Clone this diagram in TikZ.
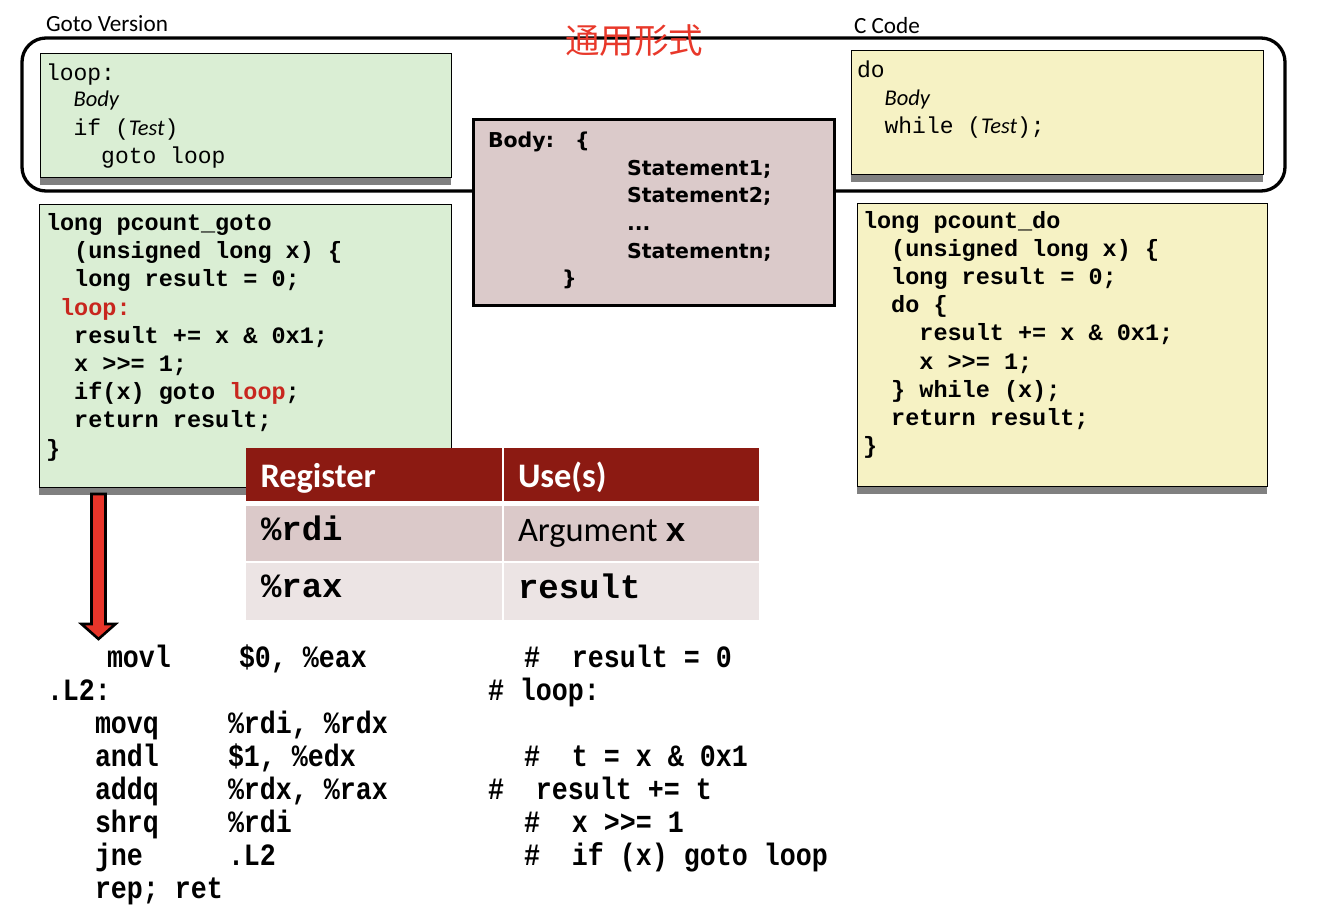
\documentclass[tikz,border=0pt]{standalone}
\usepackage{fontspec}
\setmainfont{Carlito}
\newfontfamily\cjk{Noto Sans CJK SC}
\newfontfamily\cmono{Liberation Mono}
\newfontfamily\asmfont{Liberation Mono}[FakeStretch=0.86]
\newfontfamily\gill{DejaVu Sans}
\usetikzlibrary{calc}
\definecolor{boxgreen}{RGB}{218,238,212}
\definecolor{boxyellow}{RGB}{246,242,196}
\definecolor{bodybrown}{RGB}{219,202,202}
\definecolor{shadowgray}{RGB}{128,128,128}
\definecolor{hdrred}{RGB}{140,26,18}
\definecolor{rowone}{RGB}{219,201,201}
\definecolor{rowtwo}{RGB}{236,228,228}
\definecolor{labelred}{RGB}{200,38,30}
\definecolor{arrowred}{RGB}{232,53,42}
\definecolor{titlered}{RGB}{232,56,42}
\newcommand{\ital}[1]{{\rmfamily\itshape\fontsize{22.5}{28}\selectfont #1}}
\newcommand{\rl}[1]{\textcolor{labelred}{#1}}
\begin{document}
\begin{tikzpicture}[x=1pt,y=-1pt,
  txt/.style={anchor=base west, inner sep=0pt, outer sep=0pt},
  lbl/.style={txt, font=\fontsize{23.2}{26}\selectfont},
  codebox/.style={draw=black, line width=1.4pt, inner sep=0pt, anchor=north west},
  thin/.style={txt, font={\cmono\fontsize{23}{28}\selectfont}},
  code/.style={txt, font={\cmono\bfseries\fontsize{23.5}{28}\selectfont}},
  bodyt/.style={txt, font={\gill\bfseries\fontsize{20.5}{26}\selectfont}},
  cell/.style={anchor=north west, inner sep=0pt, draw=none},
  hdr/.style={txt, text=white, font={\bfseries\fontsize{34.4}{38}\selectfont}},
  tmono/.style={txt, font={\cmono\bfseries\fontsize{34}{36}\selectfont}},
  tsans/.style={txt, font={\fontsize{34.4}{38}\selectfont}},
  asm/.style={txt, font={\asmfont\bfseries\fontsize{31}{33}\selectfont}},
  blockarrow/.style={fill=arrowred, draw=black, line width=2.6pt, line join=miter}
]
\useasboundingbox (0,0) rectangle (1328,922);

% section labels
\node[lbl] (lgoto) at (46,31.5) {Goto Version};
\node[lbl] (lccode) at (854,33) {C Code};

% rounded frame around general forms
\draw[line width=3.3pt, rounded corners=24pt] (22,38) rectangle (1285,191);
\node[txt, anchor=base, text=titlered, font={\cjk\fontsize{34.5}{38}\selectfont}] (title) at (634,53.5) {通用形式};

% shadows
\fill[shadowgray] (40,61) rectangle (451,185);
\fill[shadowgray] (851,58) rectangle (1263,182);
\fill[shadowgray] (39,212) rectangle (451,495);
\fill[shadowgray] (857,211) rectangle (1267,494);

% boxes
\node[codebox, fill=boxgreen, minimum width=411pt, minimum height=124pt] (gotoform) at (40,53) {};
\node[codebox, fill=boxyellow, minimum width=412pt, minimum height=124pt] (doform) at (851,50) {};
\node[codebox, fill=boxgreen, minimum width=412pt, minimum height=283pt] (gotocode) at (39,204) {};
\node[codebox, fill=boxyellow, minimum width=410pt, minimum height=283pt] (docode) at (857,203) {};
\node[draw=black, line width=3pt, fill=bodybrown, minimum width=361pt, minimum height=186pt, anchor=north west, inner sep=0pt] (bodybox) at (472,118) {};

% goto general form
\node[thin] (g1) at (46,80) {loop:};
\node[thin] (g2) at (46,106.5) {~~\ital{Body}};
\node[thin] (g3) at (46,135) {~~if~(\ital{Test})};
\node[thin] (g4) at (46,163) {~~~~goto~loop};

% do-while general form
\node[thin] (d1) at (857,77.5) {do};
\node[thin] (d2) at (857,105.5) {~~\ital{Body}};
\node[thin] (d3) at (857,133.5) {~~while~(\ital{Test});};

% body box
\node[bodyt] (b1) at (488,147.5) {Body:};
\node[bodyt] (b1b) at (575,147.5) {\{};
\node[bodyt] (b2) at (627,175) {Statement1;};
\node[bodyt] (b3) at (627,202.7) {Statement2;};
\node[bodyt] (b4) at (627,230.5) {...};
\node[bodyt] (b5) at (627,258.3) {Statementn;};
\node[bodyt] (b6) at (562,285) {\}};

% goto code
\node[code] (l1) at (46,230.5) {long~pcount\_goto};
\node[code] (l2) at (46,258.7) {~~(unsigned~long~x)~\{};
\node[code] (l3) at (46,286.9) {~~long~result~=~0;};
\node[code] (l4) at (46,315.1) {~\rl{loop:}};
\node[code] (l5) at (46,343.3) {~~result~+=~x~\&~0x1;};
\node[code] (l6) at (46,371.5) {~~x~>>=~1;};
\node[code] (l7) at (46,399.7) {~~if(x)~goto~\rl{loop};};
\node[code] (l8) at (46,427.9) {~~return~result;};
\node[code] (l9) at (46,456.1) {\}};

% do-while code
\node[code] (r1) at (863,228.5) {long~pcount\_do};
\node[code] (r2) at (863,256.6) {~~(unsigned~long~x)~\{};
\node[code] (r3) at (863,284.7) {~~long~result~=~0;};
\node[code] (r4) at (863,312.8) {~~do~\{};
\node[code] (r5) at (863,340.9) {~~~~result~+=~x~\&~0x1;};
\node[code] (r6) at (863,369.0) {~~~~x~>>=~1;};
\node[code] (r7) at (863,397.1) {~~\}~while~(x);};
\node[code] (r8) at (863,425.2) {~~return~result;};
\node[code] (r9) at (863,453.3) {\}};

% register table
\node[cell, fill=hdrred, minimum width=255.5pt, minimum height=53pt] (th1) at (246,448) {};
\node[cell, fill=hdrred, minimum width=255.5pt, minimum height=53pt] (th2) at (503.5,448) {};
\node[cell, fill=rowone, minimum width=255.5pt, minimum height=54.5pt] (ta1) at (246,506) {};
\node[cell, fill=rowone, minimum width=255.5pt, minimum height=54.5pt] (ta2) at (503.5,506) {};
\node[cell, fill=rowtwo, minimum width=255.5pt, minimum height=57pt] (tb1) at (246,563) {};
\node[cell, fill=rowtwo, minimum width=255.5pt, minimum height=57pt] (tb2) at (503.5,563) {};
\node[hdr] (h1) at (260.5,487) {Register};
\node[hdr] (h2) at (518,487) {Use(s)};
\node[tmono] (c1) at (261,540.5) {\%rdi};
\node[tsans] (c2) at (518,541) {Argument {\cmono\bfseries\fontsize{34}{36}\selectfont x}};
\node[tmono] (c3) at (261,597) {\%rax};
\node[tmono] (c4) at (518,598) {result};

% arrow from goto code to assembly
\coordinate (atop) at (98.5,494);
\coordinate (atip) at (98.5,639);
\draw[blockarrow] ($(atop)+(-7,0)$) -- ($(atop)+(7,0)$) -- ($(atip)+(7,-15)$) -- ($(atip)+(17,-15)$) -- (atip) -- ($(atip)+(-17,-15)$) -- ($(atip)+(-7,-15)$) -- cycle;

% assembly
\node[asm] (a1) at (107,667) {movl};
\node[asm] (a1b) at (239,667) {\$0,~\%eax};
\node[asm] (a1c) at (524,667) {\#~~result~=~0};
\node[asm] (a2) at (47,700) {.L2:};
\node[asm] (a2c) at (488,700) {\#~loop:};
\node[asm] (a3) at (95,733) {movq};
\node[asm] (a3b) at (228,733) {\%rdi,~\%rdx};
\node[asm] (a4) at (95,766) {andl};
\node[asm] (a4b) at (228,766) {\$1,~\%edx};
\node[asm] (a4c) at (524,766) {\#~~t~=~x~\&~0x1};
\node[asm] (a5) at (95,799) {addq};
\node[asm] (a5b) at (228,799) {\%rdx,~\%rax};
\node[asm] (a5c) at (488,799) {\#~~result~+=~t};
\node[asm] (a6) at (95,832) {shrq};
\node[asm] (a6b) at (228,832) {\%rdi};
\node[asm] (a6c) at (524,832) {\#~~x~>>=~1};
\node[asm] (a7) at (95,865) {jne};
\node[asm] (a7b) at (228,865) {.L2};
\node[asm] (a7c) at (524,865) {\#~~if~(x)~goto~loop};
\node[asm] (a8) at (95,898) {rep;~ret};
\end{tikzpicture}
\end{document}
